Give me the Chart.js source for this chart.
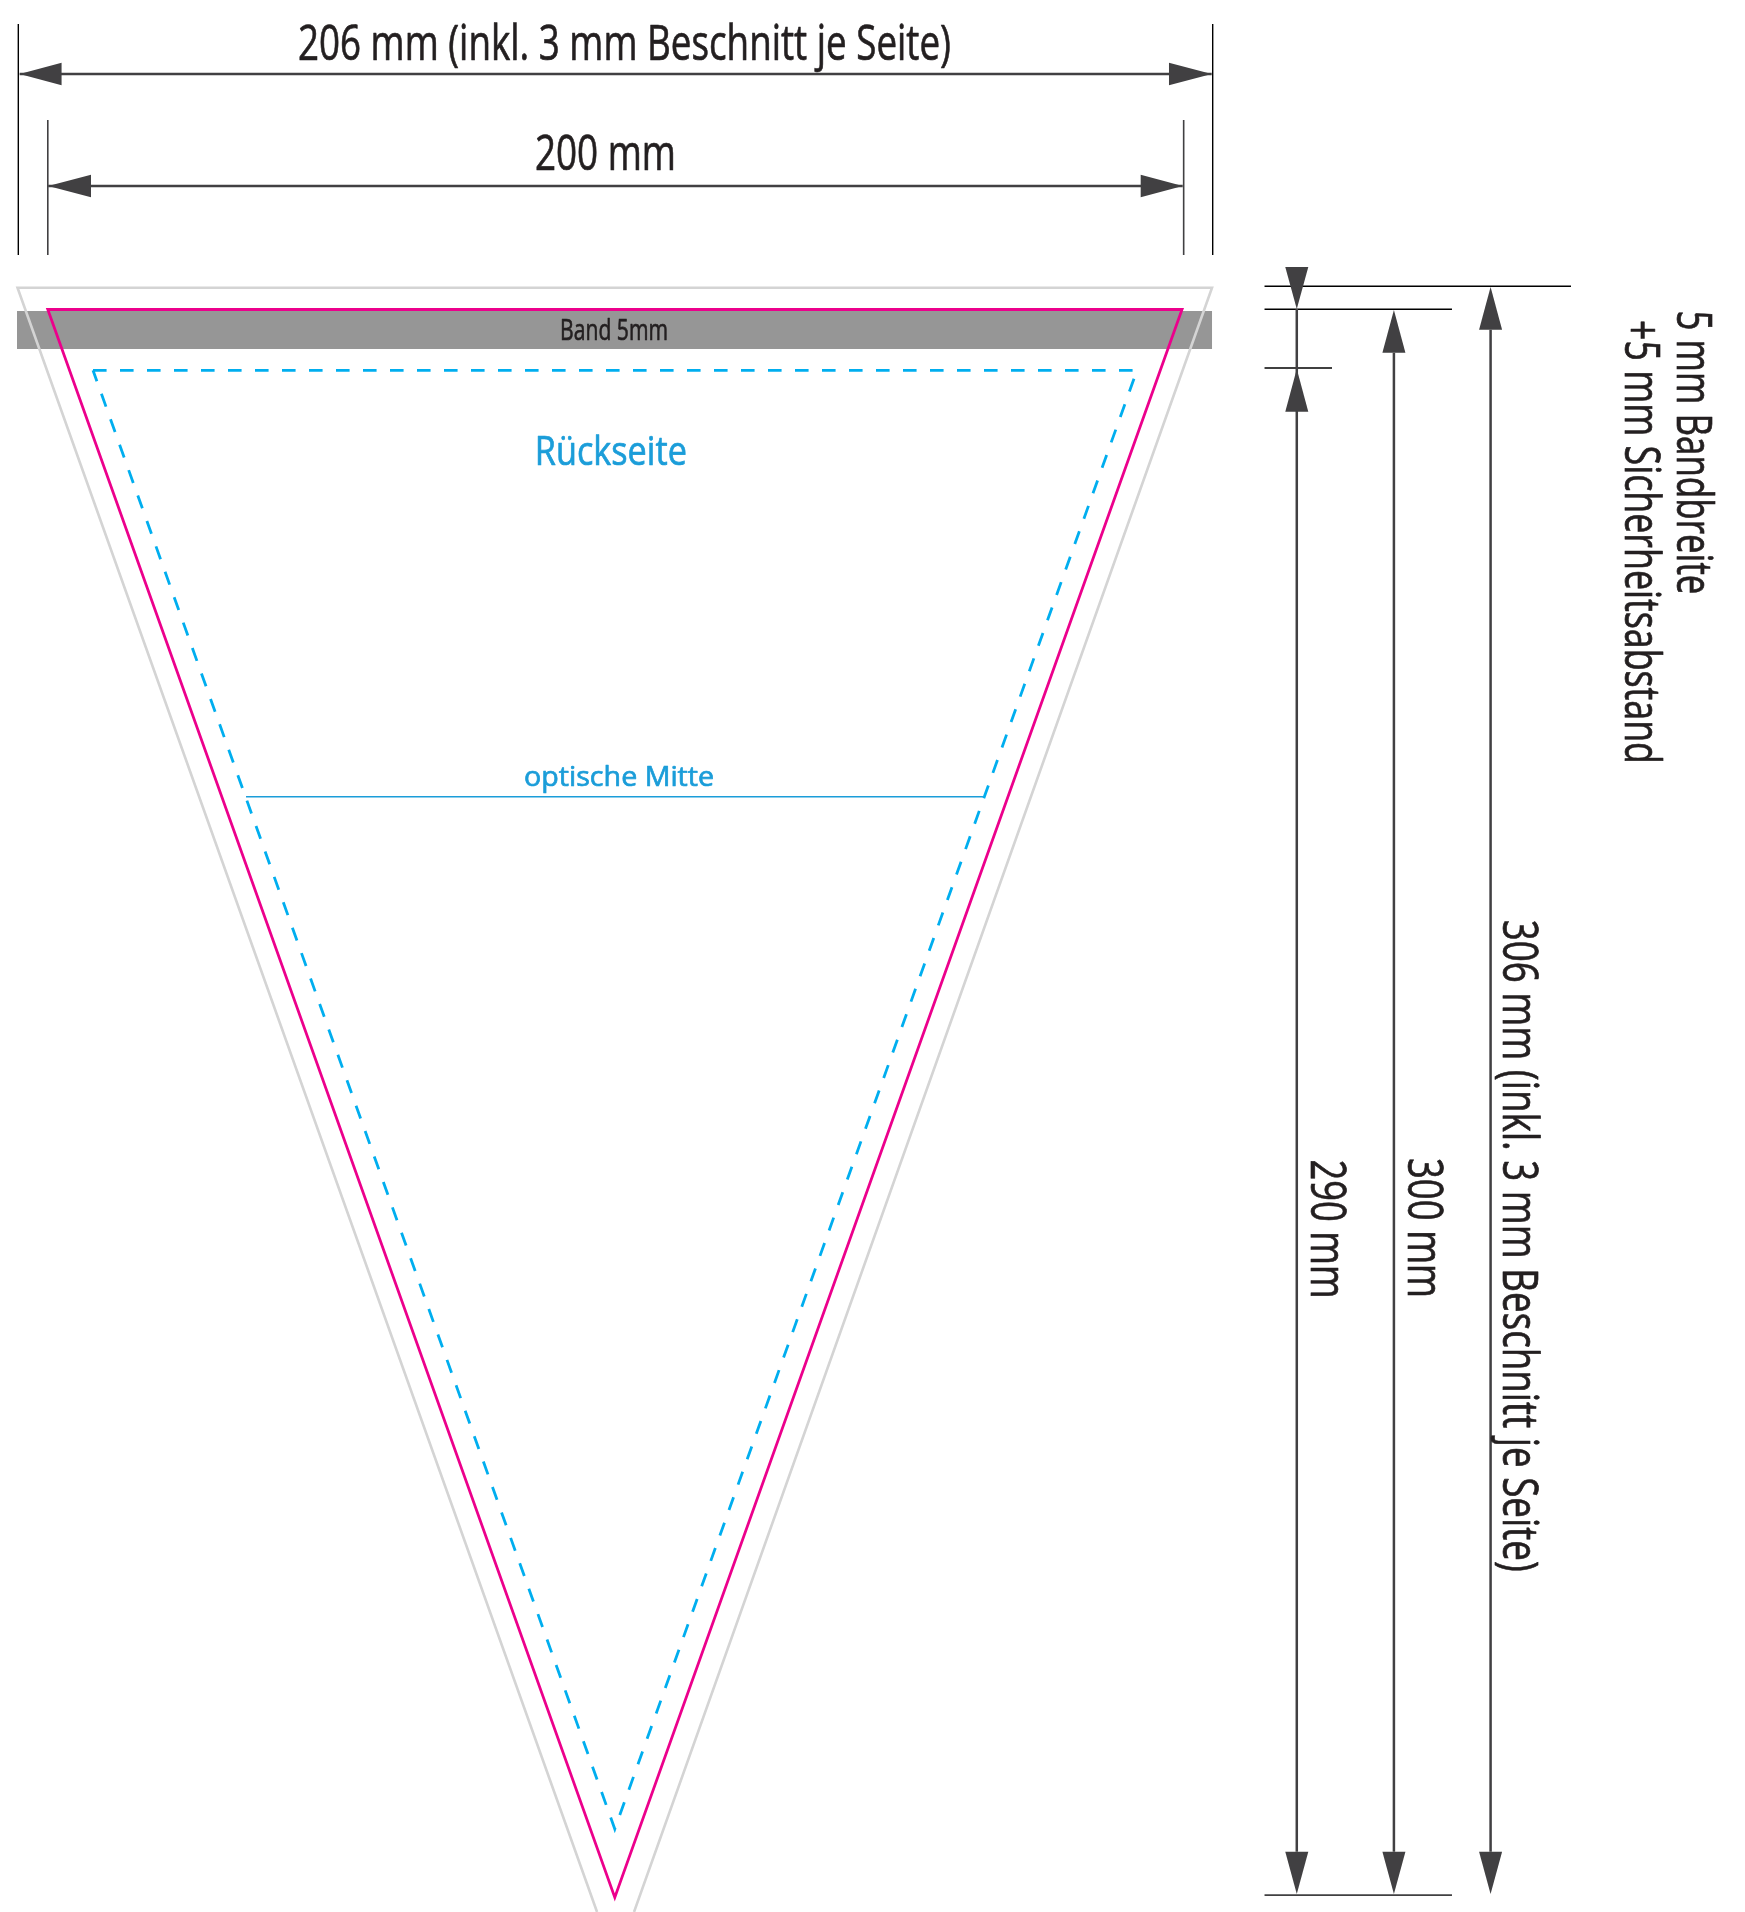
<!DOCTYPE html>
<html lang="de">
<head>
<meta charset="utf-8">
<title>Wimpel 200 x 300 mm</title>
<script src="https://cdn.jsdelivr.net/npm/chart.js@4"></script>
<style>
html,body{margin:0;padding:0;background:#fff}
canvas{display:block}
</style>
</head>
<body>
<canvas id="c" width="1745" height="1912"></canvas>
<script>
// All shape values are millimetres (x from the left trim corner, y from the top trim edge).
const bandX = [-5.43, 205.33, 205.33, -5.43];
const bandY = [0.28, 0.28, 7.46, 7.46];
const bleedX = [96.87, -5.34, 205.33, 103.39];
const bleedY = [302.76, -4.12, -4.12, 302.76];
const trimX = [0, 200.04, 100, 0, 200.04];
const trimY = [0, 0, 300, 0, 0];
const safeX = [7.97, 192.1, 100, 7.97];
const safeY = [11.49, 11.49, 287.08, 11.49];
const middleX = [34.96, 164.93];
const middleY = [92.05, 92.05];

const extOuterLeftX = [-5.2, -5.2];
const extOuterRightX = [205.45, 205.45];
const extOuterY = [-53.94, -10.3];
const extInnerLeftX = [0, 0];
const extInnerRightX = [200.33, 200.33];
const extInnerY = [-35.8, -10.3];

const dimTopX = [-4.97, 205.27];
const dimTopY = [-44.49, -44.49];
const dimInnerX = [0.07, 200.16];
const dimInnerY = [-23.33, -23.33];
const headTopLeftX = [-4.97, 2.43, 2.43];
const headTopRightX = [205.27, 197.74, 197.74];
const headTopY = [-44.49, -46.63, -42.36];
const headInnerLeftX = [0.07, 7.62, 7.62];
const headInnerRightX = [200.16, 192.75, 192.75];
const headInnerY = [-23.33, -25.47, -21.2];

const tickA_X = [214.59, 268.64];
const tickA_Y = [-4.38, -4.38];
const tickB_X = [214.59, 247.65];
const tickB_Y = [-0.04, -0.04];
const tickC_X = [214.59, 226.49];
const tickC_Y = [11.05, 11.05];
const tickD_X = [214.59, 247.65];
const tickD_Y = [299.56, 299.56];

const shaft290X = [220.28, 220.28];
const shaft290Y = [-0.09, 291.37];
const shaft300X = [237.41, 237.41];
const shaft300Y = [8.16, 291.37];
const shaft306X = [254.46, 254.46];
const shaft306Y = [3.82, 291.37];

const head290X = [220.28, 218.25, 222.31];
const head300X = [237.41, 235.38, 239.44];
const head306X = [254.46, 252.43, 256.49];
const headBandDownY = [-0.09, -8.03, -8.03];
const headBandUpY = [11.24, 19.31, 19.31];
const head300TopY = [0.09, 8.16, 8.16];
const head306TopY = [-4.25, 3.82, 3.82];
const headBottomY = [299.37, 291.37, 291.37];

const labelTexts = [
  "206 mm (inkl. 3 mm Beschnitt je Seite)", "200 mm", "Band 5mm", "Rückseite", "optische Mitte",
  "290 mm", "300 mm", "306 mm (inkl. 3 mm Beschnitt je Seite)", "5 mm Bandbreite", "+5 mm Sicherheitsabstand"
];
const labelX = [44.12, 85.92, 90.34, 85.9, 84.0, 222.79, 239.9, 256.66, 287.28, 278.08];
const labelY = [-47.14, -26.36, 5.76, 29.38, 90.03, 160.6, 160.3, 115.3, 0.19, 1.98];

// Styles
const INK = "#231f20", ARROW = "#414042", BLUE = "#1b9dd9";
const labelStyles = [
  {px:50,w:653,c:INK},{px:50,w:141,c:INK},{px:30,w:108,c:INK},{px:40,w:152,c:BLUE},{px:28,w:190,c:BLUE},
  {px:50,w:139,c:INK,rot:true},{px:50,w:140,c:INK,rot:true},{px:50,w:652,c:INK,rot:true},
  {px:50,w:284,c:INK,rot:true},{px:50,w:444,c:INK,rot:true}
];

const pts = (xs, ys) => xs.map((x, i) => ({x, y: ys[i]}));
const stroke = (xs, ys, color, width, dash) => ({
  data: pts(xs, ys), showLine: true, fill: false, borderColor: color, borderWidth: width,
  borderDash: dash || [], pointRadius: 0, pointHoverRadius: 0, tension: 0,
  borderJoinStyle: "miter", borderCapStyle: "butt"
});
const poly = (xs, ys, color) => ({
  data: pts(xs, ys), showLine: true, fill: "shape", backgroundColor: color, borderColor: color,
  borderWidth: 0, pointRadius: 0, pointHoverRadius: 0, tension: 0
});

const marks = [
  poly(bandX, bandY, "#969696"),
  stroke(bleedX, bleedY, "#d4d4d4", 2.6),
  stroke(trimX, trimY, "#ec008c", 2.8),
  stroke(safeX, safeY, "#00aeef", 2.8, [13.6, 13.4]),
  stroke(middleX, middleY, BLUE, 1.4),

  stroke(extOuterLeftX, extOuterY, "#000", 1.4),
  stroke(extOuterRightX, extOuterY, "#000", 1.4),
  stroke(extInnerLeftX, extInnerY, ARROW, 1.6),
  stroke(extInnerRightX, extInnerY, ARROW, 1.6),

  stroke(dimTopX, dimTopY, ARROW, 2.5),
  stroke(dimInnerX, dimInnerY, ARROW, 2.5),
  poly(headTopLeftX, headTopY, ARROW),
  poly(headTopRightX, headTopY, ARROW),
  poly(headInnerLeftX, headInnerY, ARROW),
  poly(headInnerRightX, headInnerY, ARROW),

  stroke(tickA_X, tickA_Y, "#000", 1.4),
  stroke(tickB_X, tickB_Y, "#000", 1.4),
  stroke(tickC_X, tickC_Y, "#000", 1.4),
  stroke(tickD_X, tickD_Y, ARROW, 1.8),

  stroke(shaft290X, shaft290Y, ARROW, 2.5),
  stroke(shaft300X, shaft300Y, ARROW, 2.5),
  stroke(shaft306X, shaft306Y, ARROW, 2.5),
  poly(head290X, headBandDownY, ARROW),
  poly(head290X, headBandUpY, ARROW),
  poly(head300X, head300TopY, ARROW),
  poly(head306X, head306TopY, ARROW),
  poly(head290X, headBottomY, ARROW),
  poly(head300X, headBottomY, ARROW),
  poly(head306X, headBottomY, ARROW)
];
marks.forEach((d, i) => { d.order = -i; });

const labelPlugin = {
  id: "drawingLabels",
  afterDatasetsDraw(chart) {
    const {ctx, scales} = chart;
    labelTexts.forEach((t, i) => {
      const s = labelStyles[i];
      ctx.save();
      ctx.font = s.px + 'px "Open Sans"';
      ctx.fillStyle = s.c;
      ctx.strokeStyle = s.c;
      ctx.lineWidth = 0.7;
      ctx.lineJoin = "round";
      ctx.textAlign = "left";
      ctx.textBaseline = "alphabetic";
      const natural = ctx.measureText(t).width;
      ctx.translate(scales.x.getPixelForValue(labelX[i]), scales.y.getPixelForValue(labelY[i]));
      if (s.rot) ctx.rotate(Math.PI / 2);
      ctx.scale(s.w / natural, 1);
      ctx.fillText(t, 0, 0);
      ctx.strokeText(t, 0, 0);
      ctx.restore();
    });
  }
};

new Chart(document.getElementById("c"), {
  type: "scatter",
  data: {datasets: marks},
  options: {
    responsive: false,
    animation: false,
    devicePixelRatio: 1,
    layout: {padding: 0},
    events: [],
    plugins: {legend: {display: false}, tooltip: {enabled: false}, title: {display: false}},
    scales: {
      x: {type: "linear", display: false, min: -8.43, max: 299.33},
      y: {type: "linear", display: false, reverse: true, min: -58.47, max: 302.76}
    }
  },
  plugins: [labelPlugin]
});
</script>
</body>
</html>
